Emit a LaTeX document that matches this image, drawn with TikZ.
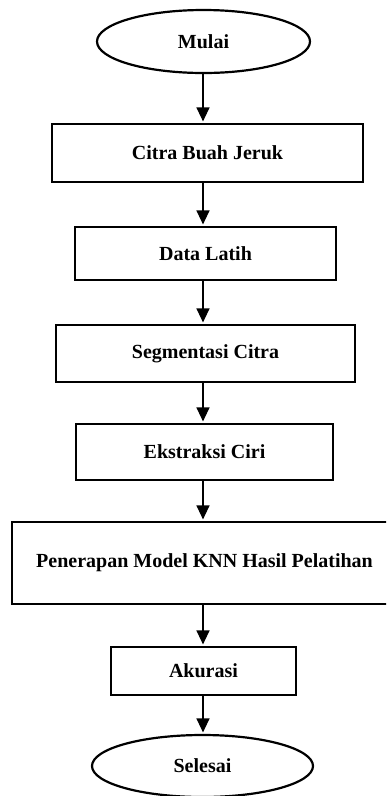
\documentclass[tikz,border=0pt]{standalone}
\usepackage{fontspec}
\setmainfont{Liberation Serif}
\usetikzlibrary{shapes.geometric,arrows.meta,calc}
\begin{document}
\begin{tikzpicture}[x=1pt,y=-1pt,
  every node/.style={font=\bfseries\fontsize{20}{24}\selectfont, inner sep=0pt},
  procbox/.style={draw, rectangle, line width=2.2pt},
  termbox/.style={draw, ellipse, line width=2.2pt},
  arr/.style={line width=1.3pt, -{Triangle[length=14pt,width=13pt]}, shorten >=1.5pt}]
\clip (0,0) rectangle (386,796);
\fill[white] (0,0) rectangle (386,796);
\node[termbox, minimum width=213pt, minimum height=63pt] (mulai) at (203.5,41.5) {Mulai};
\node[procbox, minimum width=311pt, minimum height=58pt] (citra) at (207.5,153) {Citra Buah Jeruk};
\node[procbox, minimum width=261pt, minimum height=53pt] (data) at (205.5,253.5) {Data Latih};
\node[procbox, minimum width=299pt, minimum height=57pt] (seg) at (205.5,353.5) {Segmentasi Citra};
\node[procbox, minimum width=257pt, minimum height=56pt] (eks) at (204.5,452) {Ekstraksi Ciri};
\node[procbox, minimum width=385pt, minimum height=82pt] (pen) at (204.5,563) {Penerapan Model KNN Hasil Pelatihan};
\node[procbox, minimum width=185pt, minimum height=48pt] (aku) at (203.5,671) {Akurasi};
\node[termbox, minimum width=221pt, minimum height=62pt] (sel) at (202.5,766) {Selesai};
\coordinate (sp) at (203,0);
\draw[arr] (mulai.south -| sp) -- (citra.north -| sp);
\draw[arr] (citra.south -| sp) -- (data.north -| sp);
\draw[arr] (data.south -| sp) -- (seg.north -| sp);
\draw[arr] (seg.south -| sp) -- (eks.north -| sp);
\draw[arr] (eks.south -| sp) -- (pen.north -| sp);
\draw[arr] (pen.south -| sp) -- (aku.north -| sp);
\draw[arr] (aku.south -| sp) -- (sel.north -| sp);
\end{tikzpicture}
\end{document}
